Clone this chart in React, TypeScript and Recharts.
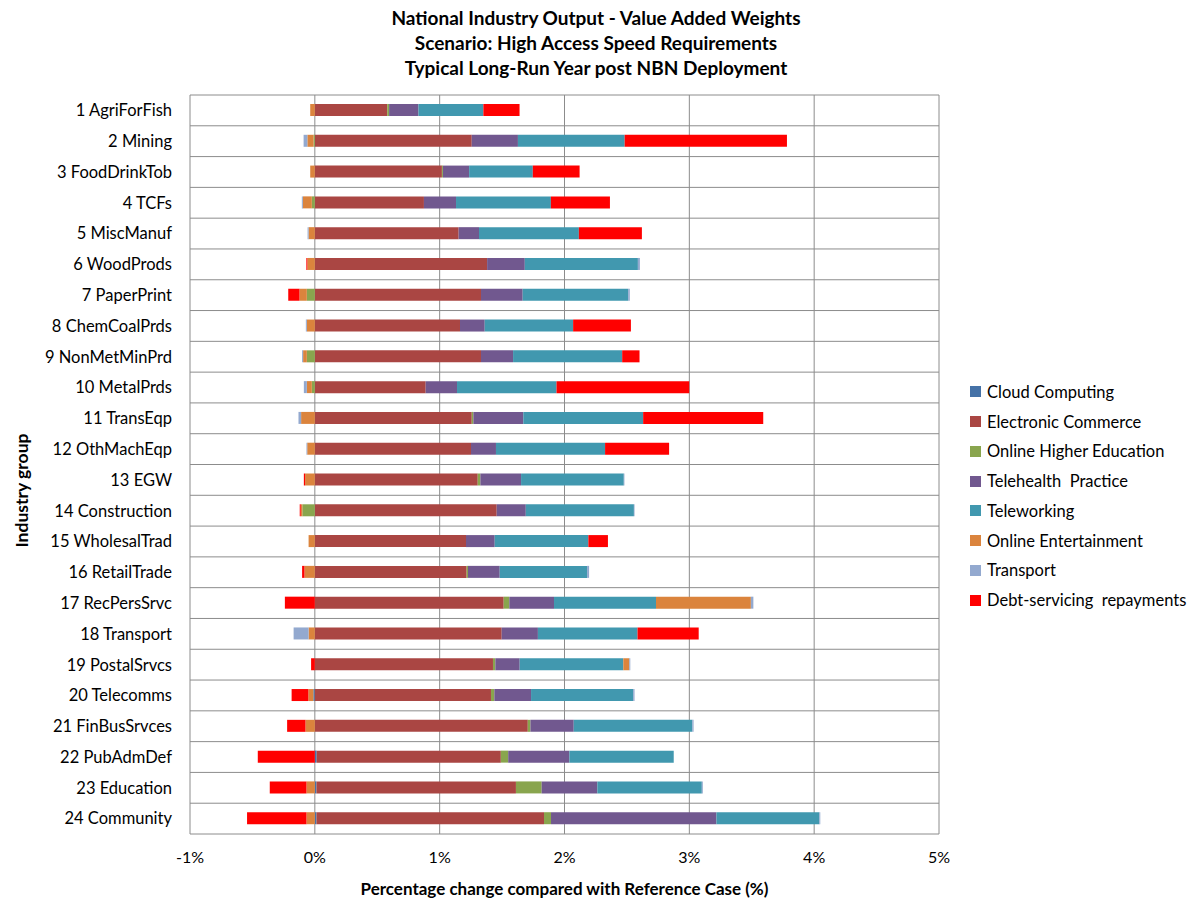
import React from 'react';
import { BarChart, Bar, XAxis, YAxis, CartesianGrid, Label } from 'recharts';

// industry groups, top to bottom
const industries = [
  '1 AgriForFish', '2 Mining', '3 FoodDrinkTob', '4 TCFs', '5 MiscManuf', '6 WoodProds',
  '7 PaperPrint', '8 ChemCoalPrds', '9 NonMetMinPrd', '10 MetalPrds', '11 TransEqp', '12 OthMachEqp',
  '13 EGW', '14 Construction', '15 WholesalTrad', '16 RetailTrade', '17 RecPersSrvc', '18 Transport',
  '19 PostalSrvcs', '20 Telecomms', '21 FinBusSrvces', '22 PubAdmDef', '23 Education', '24 Community',
];

// percentage change contributions, one value per industry
const cloudComputing = [0, 0, 0, 0, 0, 0, 0, 0, 0, 0, 0, 0, 0, 0, 0, 0, 0, 0, 0, -0.012, 0, 0.015, 0.013, 0.013];
const electronicCommerce = [0.58, 1.257, 1.018, 0.874, 1.152, 1.38, 1.331, 1.163, 1.331, 0.888, 1.257, 1.251,
  1.305, 1.457, 1.211, 1.216, 1.513, 1.497, 1.427, 1.411, 1.706, 1.475, 1.598, 1.823];
const onlineHigherEd = [0.015, -0.01, 0.008, -0.024, 0, 0, -0.064, 0, -0.064, -0.024, 0.013, 0,
  0.021, -0.1, 0, 0.011, 0.045, 0, 0.019, 0.027, 0.021, 0.059, 0.206, 0.056];
const telehealth = [0.235, 0.37, 0.21, 0.257, 0.163, 0.302, 0.334, 0.198, 0.257, 0.251, 0.4, 0.2,
  0.326, 0.233, 0.23, 0.254, 0.358, 0.29, 0.195, 0.294, 0.347, 0.49, 0.446, 1.325];
const teleworking = [0.52, 0.855, 0.51, 0.76, 0.8, 0.906, 0.845, 0.708, 0.874, 0.797, 0.96, 0.874,
  0.823, 0.866, 0.75, 0.7, 0.817, 0.798, 0.83, 0.818, 0.95, 0.836, 0.837, 0.824];
const onlineEntertainment = [-0.037, -0.05, -0.037, -0.072, -0.05, -0.06, -0.059, -0.064, -0.03, -0.04, -0.11, -0.061,
  -0.078, -0.013, -0.05, -0.083, 0.76, -0.05, 0.048, -0.04, -0.075, 0, -0.067, -0.067];
const transport = [0, -0.03, 0, -0.008, -0.008, 0.016, 0.013, -0.008, -0.008, -0.024, -0.021, -0.006,
  0.005, 0.005, 0, 0.016, 0.02, -0.12, 0.008, 0.011, 0.01, 0, 0.008, 0.008];
const debtRepayments = [0.29, 1.3, 0.375, 0.473, 0.505, -0.008, -0.09, 0.463, 0.139, 1.063, 0.962, 0.513,
  -0.01, -0.008, 0.157, -0.019, -0.24, 0.49, -0.03, -0.134, -0.147, -0.457, -0.294, -0.476];

const xTicks = [-1, 0, 1, 2, 3, 4, 5];

const series = [
  { key: 'cloud', name: 'Cloud Computing', color: '#4572A7', values: cloudComputing },
  { key: 'ecom', name: 'Electronic Commerce', color: '#AA4643', values: electronicCommerce },
  { key: 'ohe', name: 'Online Higher Education', color: '#89A54E', values: onlineHigherEd },
  { key: 'tele', name: 'Telehealth  Practice', color: '#71588F', values: telehealth },
  { key: 'work', name: 'Teleworking', color: '#4198AF', values: teleworking },
  { key: 'ent', name: 'Online Entertainment', color: '#DB843D', values: onlineEntertainment },
  { key: 'trans', name: 'Transport', color: '#93A9CF', values: transport },
  { key: 'debt', name: 'Debt-servicing  repayments', color: '#FF0000', values: debtRepayments },
];

const data = industries.map((name, i) => {
  const row: Record<string, number | string> = { name };
  series.forEach(s => { row[s.key] = s.values[i]; });
  return row;
});

const font = 'Lato, "Open Sans", sans-serif';
const gridColor = '#8c8c8c';

export default function App() {
  const W = 1192;
  const H = 901;

  return (
    <div style={{ position: 'absolute', left: 0, top: 0, width: W, height: H, background: '#fff', fontFamily: font }}>
      {/* title */}
      <div style={{ position: 'absolute', left: 0, top: 5, width: W, textAlign: 'center', fontWeight: 'bold', fontSize: 19, lineHeight: '25px', color: '#000' }}>
        <div>National Industry Output - Value Added Weights</div>
        <div>Scenario: High Access Speed Requirements</div>
        <div>Typical Long-Run Year post NBN Deployment</div>
      </div>

      <BarChart
        width={W}
        height={H}
        data={data}
        layout="vertical"
        stackOffset="sign"
        barCategoryGap={0}
        margin={{ top: 95, right: 253, bottom: 0, left: 0 }}
        style={{ position: 'absolute', left: 0, top: 0 }}
      >
        <CartesianGrid
          stroke={gridColor}
          strokeWidth={1}
          horizontalCoordinatesGenerator={({ offset }: any) =>
            industries.map((_, i) => offset.top + (i * offset.height) / industries.length).concat(offset.top + offset.height)
          }
        />
        <XAxis
          type="number"
          domain={[-1, 5]}
          ticks={xTicks}
          tickFormatter={(v: number) => `${v}%`}
          tickLine={false}
          axisLine={false}
          tickMargin={12}
          height={67}
          tick={{ fill: '#000', fontSize: 16, fontFamily: font }}
        >
          <Label
            value="Percentage change compared with Reference Case (%)"
            position="insideBottom"
            offset={6}
            style={{ fontWeight: 'bold', fontSize: 17, fill: '#000', fontFamily: font }}
          />
        </XAxis>
        <YAxis
          type="category"
          dataKey="name"
          width={190}
          tickLine={false}
          axisLine={false}
          tickMargin={12}
          interval={0}
          tick={{ fill: '#000', fontSize: 16.5, fontFamily: font }}
        >
          <Label
            content={({ viewBox }: any) => {
              const cx = viewBox.x + 21;
              const cy = viewBox.y + viewBox.height / 2 + 26;
              return (
                <text
                  x={cx}
                  y={cy}
                  transform={`rotate(-90 ${cx} ${cy})`}
                  textAnchor="middle"
                  dominantBaseline="central"
                  style={{ fontWeight: 'bold', fontSize: 17.5, fill: '#000', fontFamily: font }}
                >
                  Industry group
                </text>
              );
            }}
          />
        </YAxis>
        {series.map(s => (
          <Bar key={s.key} dataKey={s.key} name={s.name} stackId="a" fill={s.color} barSize={12} isAnimationActive={false} />
        ))}
      </BarChart>

      {/* legend */}
      <div style={{ position: 'absolute', left: 970, top: 377, fontSize: 16.5, color: '#000' }}>
        {series.map(s => (
          <div key={s.key} style={{ height: 29.77, display: 'flex', alignItems: 'center', whiteSpace: 'pre' }}>
            <span style={{ width: 11, height: 11, background: s.color, marginRight: 6, display: 'inline-block' }} />
            <span>{s.name}</span>
          </div>
        ))}
      </div>
    </div>
  );
}
